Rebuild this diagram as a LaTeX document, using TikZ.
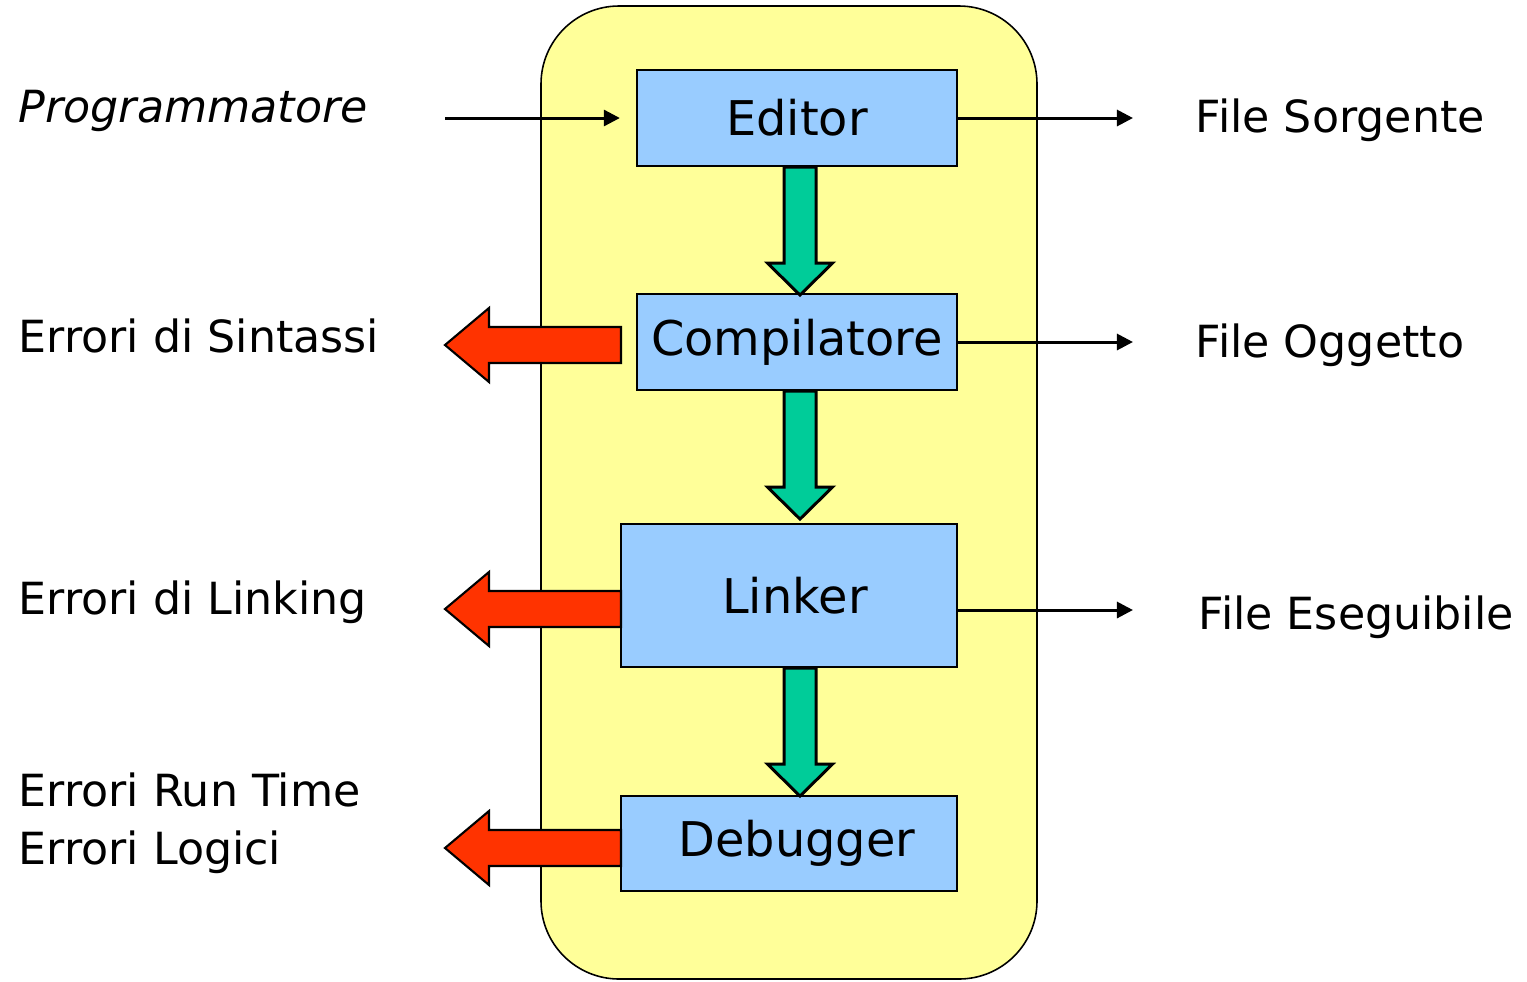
\documentclass[tikz,border=0pt]{standalone}
\usepackage{fontspec}
\setmainfont{DejaVu Sans}
\usetikzlibrary{arrows.meta}

\definecolor{giallo}{HTML}{FFFF99}
\definecolor{azzurro}{HTML}{99CCFF}
\definecolor{verde}{HTML}{00CC99}
\definecolor{rosso}{HTML}{FF3300}

\newcommand{\corpo}{\fontsize{12.6}{15}\selectfont}
\newcommand{\corpofase}{\fontsize{13.6}{16}\selectfont}

\tikzset{
	fase/.style={draw, fill=azzurro, line width=0.6pt, inner sep=0pt, font=\corpofase},
	testo/.style={anchor=base west, inner sep=0pt, font=\corpo},
	uscita/.style={-{Triangle[length=1.6mm, width=1.6mm]}, line width=0.85pt},
	passo/.style={draw, fill=verde, line width=0.85pt},
	errore/.style={draw, fill=rosso, line width=0.6pt},
}

\begin{document}
\begin{tikzpicture}[x=0.01cm, y=-0.01cm]

	\useasboundingbox (0, 0) rectangle (1527, 981);

	% contenitore giallo
	\draw[fill=giallo, line width=0.45pt, rounded corners=0.78cm] (541, 6) rectangle (1037, 979);

	% le quattro fasi
	\node[fase, minimum width=3.2cm, minimum height=0.96cm] (editor) at (797, 118) {Editor};
	\node[fase, minimum width=3.2cm, minimum height=0.96cm] (compilatore) at (797, 342) {Compilatore};
	\node[fase, minimum width=3.36cm, minimum height=1.43cm] (linker) at (789, 595.5) {\hspace{0.12cm}Linker};
	\node[fase, minimum width=3.36cm, minimum height=0.95cm] (debugger) at (789, 843.5) {\hspace{0.16cm}Debugger};

	% frecce verdi tra le fasi
	\foreach \a in {editor, compilatore, linker} {
		\draw[passo] (800,0 |- \a.south) -- ++(-16,0) -- ++(0,96) -- ++(-16.5,0) -- ++(32.5,32)
			-- ++(32.5,-32) -- ++(-16.5,0) -- ++(0,-96) -- cycle;
	}

	% frecce rosse degli errori
	\foreach \y in {345, 609, 848} {
		\draw[errore] (621, \y) -- ++(0,-18) -- ++(-132,0) -- ++(0,-19) -- ++(-44,37)
			-- ++(44,37) -- ++(0,-19) -- ++(132,0) -- cycle;
	}

	% testi a sinistra
	\node[testo, font=\corpo\itshape] (programmatore) at (18, 122) {Programmatore};
	\node[testo] (sintassi) at (18, 352) {Errori di Sintassi};
	\node[testo] (linking) at (18, 614) {Errori di Linking};
	\node[testo] (runtime) at (18, 806) {Errori Run Time};
	\node[testo] (logici) at (18, 864) {Errori Logici};

	% testi a destra
	\node[testo] (sorgente) at (1195, 132) {File Sorgente};
	\node[testo] (oggetto) at (1195, 357) {File Oggetto};
	\node[testo] (eseguibile) at (1198, 629) {File Eseguibile};

	% frecce nere
	\draw[uscita, shorten >=0.16cm] (445, 118) -- (editor.west);
	\draw[uscita, shorten >=0.62cm] (editor.east) -- (editor.east -| sorgente.west);
	\draw[uscita, shorten >=0.62cm] (compilatore.east) -- (compilatore.east -| oggetto.west);
	\draw[uscita, shorten >=0.65cm] (linker.east |- 0,610) -- (eseguibile.west |- 0,610);

\end{tikzpicture}
\end{document}
